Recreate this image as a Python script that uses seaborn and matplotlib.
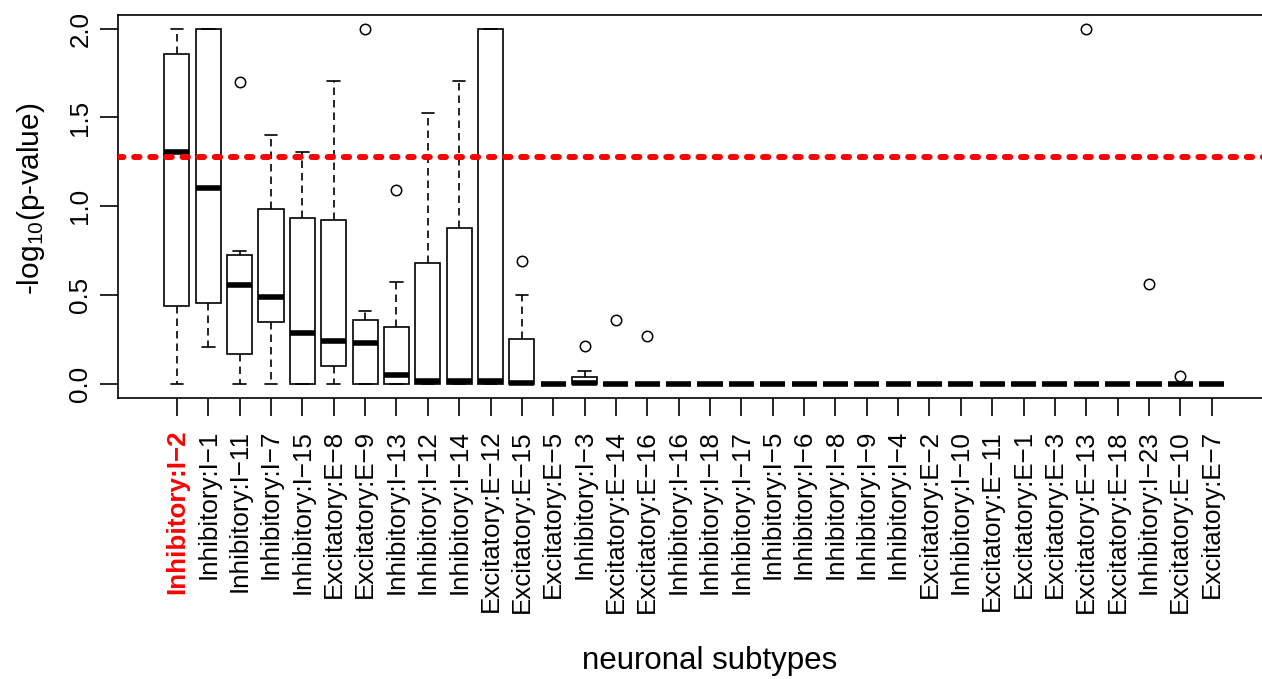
import matplotlib
matplotlib.use("Agg")
import matplotlib.pyplot as plt
import seaborn as sns
import pandas as pd

# Neuronal subtypes, ordered as on the axis
subtypes = [
    "Inhibitory:I−2", "Inhibitory:I−1", "Inhibitory:I−11", "Inhibitory:I−7",
    "Inhibitory:I−15", "Excitatory:E−8", "Excitatory:E−9", "Inhibitory:I−13",
    "Inhibitory:I−12", "Inhibitory:I−14", "Excitatory:E−12", "Excitatory:E−15",
    "Excitatory:E−5", "Inhibitory:I−3", "Excitatory:E−14", "Excitatory:E−16",
    "Inhibitory:I−16", "Inhibitory:I−18", "Inhibitory:I−17", "Inhibitory:I−5",
    "Inhibitory:I−6", "Inhibitory:I−8", "Inhibitory:I−9", "Inhibitory:I−4",
    "Excitatory:E−2", "Inhibitory:I−10", "Excitatory:E−11", "Excitatory:E−1",
    "Excitatory:E−3", "Excitatory:E−13", "Excitatory:E−18", "Inhibitory:I−23",
    "Excitatory:E−10", "Excitatory:E−7",
]

# Five-number summaries of -log10(p-value) per subtype
whisker_low = [0.00, 0.21, 0.00, 0.00, 0.00, 0.00, 0.00, 0.00, 0.00, 0.00,
               0.00, 0.00, 0.00, 0.00, 0.00, 0.00, 0.00, 0.00, 0.00, 0.00,
               0.00, 0.00, 0.00, 0.00, 0.00, 0.00, 0.00, 0.00, 0.00, 0.00,
               0.00, 0.00, 0.00, 0.00]
box_q1 = [0.44, 0.455, 0.17, 0.35, 0.00, 0.10, 0.00, 0.00, 0.00, 0.00,
          0.00, 0.00, 0.00, 0.00, 0.00, 0.00, 0.00, 0.00, 0.00, 0.00,
          0.00, 0.00, 0.00, 0.00, 0.00, 0.00, 0.00, 0.00, 0.00, 0.00,
          0.00, 0.00, 0.00, 0.00]
box_median = [1.305, 1.10, 0.556, 0.487, 0.287, 0.24, 0.227, 0.052, 0.016, 0.016,
              0.016, 0.007, 0.00, 0.005, 0.00, 0.00, 0.00, 0.00, 0.00, 0.00,
              0.00, 0.00, 0.00, 0.00, 0.00, 0.00, 0.00, 0.00, 0.00, 0.00,
              0.00, 0.00, 0.00, 0.00]
box_q3 = [1.86, 2.00, 0.726, 0.987, 0.934, 0.925, 0.359, 0.321, 0.679, 0.876,
          2.00, 0.25, 0.00, 0.037, 0.00, 0.00, 0.00, 0.00, 0.00, 0.00,
          0.00, 0.00, 0.00, 0.00, 0.00, 0.00, 0.00, 0.00, 0.00, 0.00,
          0.00, 0.00, 0.00, 0.00]
whisker_high = [2.00, 2.00, 0.75, 1.40, 1.305, 1.706, 0.411, 0.571, 1.526, 1.706,
                2.00, 0.498, 0.00, 0.072, 0.00, 0.00, 0.00, 0.00, 0.00, 0.00,
                0.00, 0.00, 0.00, 0.00, 0.00, 0.00, 0.00, 0.00, 0.00, 0.00,
                0.00, 0.00, 0.00, 0.00]
outliers = [[], [], [1.70], [], [], [], [2.00], [1.093], [], [],
            [], [0.693], [], [0.215], [0.358], [0.268], [], [], [], [],
            [], [], [], [], [], [], [], [], [], [2.00],
            [], [0.562], [0.042], []]

significance_cutoff = 1.277
highlighted = "Inhibitory:I−2"
y_ticks = [0.0, 0.5, 1.0, 1.5, 2.0]


def sample_for(lo, q1, med, q3, hi, outs):
    """Observations whose linear quartiles and whiskers give the summary."""
    if not outs:
        return [lo, q1, med, q3, hi]
    return [lo, q1, q1, med, med, q3, q3, hi] + list(outs)


rows = []
for name, lo, q1, med, q3, hi, outs in zip(subtypes, whisker_low, box_q1,
                                           box_median, box_q3, whisker_high,
                                           outliers):
    for v in sample_for(lo, q1, med, q3, hi, outs):
        rows.append({"subtype": name, "value": v})
df = pd.DataFrame(rows)

sns.set_theme(style="ticks")
plt.rcParams["font.family"] = ["Liberation Sans", "DejaVu Sans"]
plt.rcParams["mathtext.fontset"] = "custom"
plt.rcParams["mathtext.rm"] = "Liberation Sans"
plt.rcParams["mathtext.it"] = "Liberation Sans"

W, H = 1262, 679
fig = plt.figure(figsize=(W / 100, H / 100), dpi=100)
ax = fig.add_axes([118 / W, (H - 398) / H, 1152 / W, 383.5 / H])

sns.boxplot(
    data=df, x="subtype", y="value", order=subtypes, ax=ax,
    color="white", linecolor="black", linewidth=1.2, width=0.8, whis=1.5,
    medianprops=dict(linewidth=4.0, solid_capstyle="butt"),
    whiskerprops=dict(linestyle=(0, (4.5, 3))),
    flierprops=dict(marker="o", markersize=7.5, markerfacecolor="none",
                    markeredgecolor="black", markeredgewidth=1.1),
)

ax.axhline(significance_cutoff, color="#ff0000", linewidth=4.3,
           linestyle=(0, (0.9, 1.8)), dash_capstyle="round", zorder=10)

ax.set_xlim(-1.88, 34.86)
ax.set_ylim(-0.08, 2.08)
ax.set_yticks(y_ticks)
ax.set_yticklabels([f"{t:.1f}" for t in y_ticks])

for side in ["top", "bottom", "left", "right"]:
    ax.spines[side].set_visible(True)
    ax.spines[side].set_color("black")
    ax.spines[side].set_linewidth(1.2)

ax.tick_params(axis="both", direction="out", length=13, width=1.2,
               color="black", labelcolor="black", labelsize=18.7)
ax.tick_params(axis="x", labelrotation=90, pad=10)
ax.tick_params(axis="y", pad=5.5)
for lab in ax.get_yticklabels():
    lab.set_rotation(90)
    lab.set_va("center")
for lab in ax.get_xticklabels():
    if lab.get_text() == highlighted:
        lab.set_color("#ff0000")
        lab.set_fontweight("bold")

ax.set_xlabel("neuronal subtypes", fontsize=22.5, color="black")
ax.set_ylabel(r"-log$_{\mathregular{10}}$(p-value)", fontsize=21.5,
              color="black")
ax.xaxis.set_label_coords((710 - 118) / 1152, -(669 - 398) / 383.5)
ax.xaxis.label.set_va("baseline")
ax.yaxis.set_label_coords(-(118 - 15) / 1152, 0.52)
ax.yaxis.label.set_va("top")

ax.set_facecolor("white")
fig.patch.set_facecolor("white")
fig.savefig("out.png", dpi=100, facecolor="white")
